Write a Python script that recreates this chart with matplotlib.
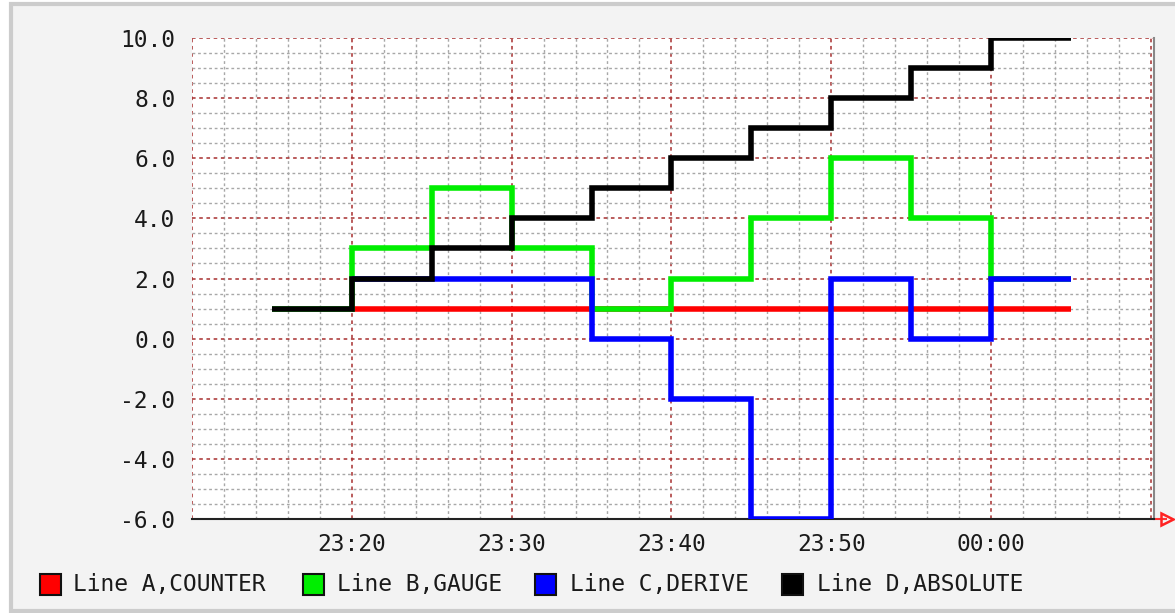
import numpy as np
import pandas as pd
import matplotlib
matplotlib.use("Agg")
import matplotlib.pyplot as plt
import matplotlib.dates as mdates
from matplotlib.patches import Rectangle

plt.rcParams['axes.unicode_minus'] = False
plt.rcParams['font.family'] = ['DejaVu Sans Mono']

# 5 minute samples, step values hold until the next sample
times = ['23:15', '23:20', '23:25', '23:30', '23:35', '23:40',
         '23:45', '23:50', '23:55', '00:00', '00:05']
line_a = [np.nan, 1, 1, 1, 1, 1, 1, 1, 1, 1, 1]
line_b = [1, 3, 5, 3, 1, 2, 4, 6, 4, 2, 2]
line_c = [np.nan, 2, 2, 2, 0, -2, -6, 2, 0, 2, 2]
line_d = [1, 2, 3, 4, 5, 6, 7, 8, 9, 10, 10]

labels = ['Line A,COUNTER', 'Line B,GAUGE', 'Line C,DERIVE', 'Line D,ABSOLUTE']
colors = ['#ff0000', '#00ee00', '#0000ff', '#000000']
series = [line_a, line_b, line_c, line_d]
shown_ticks = ['23:20', '23:30', '23:40', '23:50', '00:00']

t = pd.to_datetime(['2024-01-01 ' + s for s in times])
t = t + pd.to_timedelta((t.hour < 12).astype(int), unit='D')

W, H = 1175, 613
fig = plt.figure(figsize=(W / 100, H / 100), dpi=100, facecolor='white')
fig.patches.append(Rectangle((11 / W, 2 / H), 1.0, 1 - 6 / H, transform=fig.transFigure,
                             facecolor='#f3f3f3', edgecolor='#cccccc', linewidth=3, zorder=-10))

ax = fig.add_axes([192 / W, (H - 519) / H, (1154 - 192) / W, (519 - 38) / H])
ax.set_facecolor('white')

for vals, col in zip(series, colors):
    ax.plot(t, vals, drawstyle='steps-post', color=col, lw=4.0,
            solid_joinstyle='miter', solid_capstyle='butt', zorder=3)

ax.set_xlim(pd.Timestamp('2024-01-01 23:10'), pd.Timestamp('2024-01-02 00:10:12'))
ax.set_ylim(-6, 10)

ax.xaxis.set_major_locator(mdates.MinuteLocator(byminute=range(0, 60, 10)))
ax.xaxis.set_minor_locator(mdates.MinuteLocator(byminute=range(0, 60, 2)))
ax.xaxis.set_major_formatter(mdates.DateFormatter('%H:%M'))
ax.set_yticks(np.arange(-6, 10.1, 2))
ax.set_yticks(np.arange(-6, 10.1, 0.5), minor=True)
ax.yaxis.set_major_formatter(plt.FormatStrFormatter('%.1f'))

ax.grid(which='minor', color='#a8a8a8', linestyle=(0, (2, 2)), lw=1.0, zorder=1)
ax.grid(which='major', color='#a83030', linestyle=(0, (2, 2)), lw=1.3, alpha=0.85, zorder=2)

ax.tick_params(which='both', length=0, labelsize=16.5, labelcolor='#1a1a1a')
ax.tick_params(axis='y', pad=12)
ax.tick_params(axis='x', pad=10)

for side in ['top', 'left']:
    ax.spines[side].set_visible(False)
ax.spines['right'].set_color('#888888')
ax.spines['right'].set_linewidth(1.5)
ax.spines['bottom'].set_color('#222222')
ax.spines['bottom'].set_linewidth(1.5)

# axis arrow
ax.plot([1.0, 1.012], [0, 0], transform=ax.transAxes, color='#ff3333', lw=1.5, clip_on=False)
ax.plot([1.014], [0], transform=ax.transAxes, marker='>', ms=8, mfc='none', mec='#ff2222',
        mew=1.8, clip_on=False)

# only label the ticks inside the data range
fig.canvas.draw()
ticks = ax.get_xticks()
lbls = [l.get_text() for l in ax.get_xticklabels()]
lbls = [s if s in shown_ticks else '' for s in lbls]
ax.set_xticks(ticks)
ax.set_xticklabels(lbls)

# legend
sq_x = [40, 303, 535, 782]
txt_x = [73, 337, 570, 817]
for lab, col, sx, tx in zip(labels, colors, sq_x, txt_x):
    fig.patches.append(Rectangle((sx / W, (H - 595) / H), 21 / W, 21 / H, transform=fig.transFigure,
                                 facecolor=col, edgecolor='#111111', linewidth=1.5))
    fig.text(tx / W, (H - 584) / H, lab, fontsize=16.5, color='#1a1a1a', va='center', ha='left')

fig.savefig('out.png', dpi=100, facecolor=fig.get_facecolor())
